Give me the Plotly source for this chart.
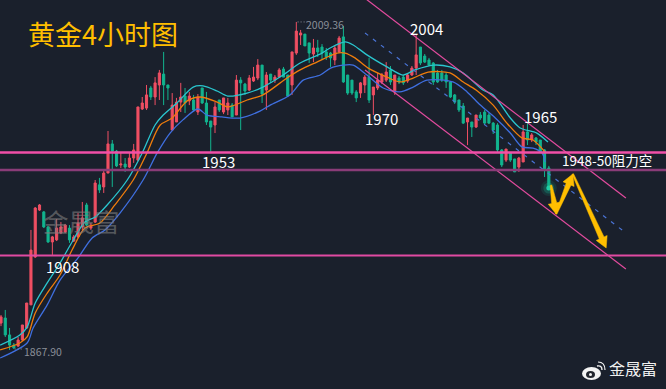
import math
import plotly.graph_objects as go

W, H = 666, 389
BG = "#1a202c"
RED = "#ef4f63"
GREEN = "#12b48f"
TEAL = "#2ac6cf"
ORANGE = "#f07d0c"
BLUE = "#3f6fe0"
PINK = "#ee4fa6"
GOLD = "#ffbe00"
FONT = "Noto Sans CJK SC"

opens = [1879.1,1881.3,1874,1869.6,1869.2,1871.8,1877,1887,1907.7,1928,1927.2,1920.7,1914.2,1915.1,1918.1,1918.5,1920.2,1914.6,1916.4,1920.7,
1930.2,1920.2,1922.8,1938.9,1938,1944,1956.6,1953.5,1947.5,1947.9,1946.6,1950.5,1949.6,1971.7,1972.1,1980.8,1976.9,1982.1,1986.8,1982.1,
1962.6,1966.1,1974.7,1977.3,1975.2,1975.6,1970.4,1980.8,1974.3,1966.5,1964.8,1975.6,1970.4,1971.3,1973.4,1969.1,1984.2,1982.5,1979.9,1983.8,
1985.1,1990.7,1979.9,1986.8,1984.2,1985.5,1989,1986.4,1982.1,1995.9,2003.7,2004.1,2000.3,1995.5,1998.1,1998.5,1996.4,1995.9,1992.9,1996.4,
2002.9,1986.4,1984.2,1979.1,1978.6,1982.1,1985.5,1977.8,1980.8,1983.4,1984.2,1988.6,1979.1,1985.1,1985.5,1983.8,1986.4,1989.4,1998.5,1994.6,
1992.9,1991.6,1987.3,1987.3,1986.4,1983.4,1977.8,1975.6,1973,1966.1,1966.1,1963.9,1969.1,1970.4,1969.1,1965.6,1964.8,1954,1949.6,1952.7,
1950.1,1946.6,1948.8,1961.8,1958.3,1959.2,1958.3,1954,1946.2]
highs = [1882.6,1884.8,1877,1870.5,1873.1,1878.3,1887.8,1919.4,1929.3,1930.6,1927.6,1921.1,1916.8,1924.1,1922.8,1922,1921.5,1917.2,1926.7,1931.5,
1931.1,1922.4,1941,1941.9,1945.3,1962.2,1958.3,1954,1952.7,1950.5,1953.1,1956.6,1972.6,1976.9,1982.1,1981.7,1985.5,1988.6,1996.4,1982.1,
1978.6,1976.5,1983,1980.8,1979.1,1977.8,1978.2,1980.8,1979.1,1966.5,1974.7,1975.6,1976.5,1976.5,1974.3,1986.4,1985.5,1983,1986.4,1989.9,
1993.3,1990.7,1987.7,1986.8,1986.4,1989.4,1989.9,1986.4,1996.4,2009.36,2005.9,2004.1,2000.3,2002,2001.6,1999.8,1998.1,1996.4,1999,2003.3,
2007.6,1986.4,1984.2,1979.9,1983.4,1986.4,1993.8,1981.2,1987.3,1987.3,1992,1990.3,1986.4,1986,1986.4,1987.3,1990.3,2003.7,1998.5,1995.5,
1993.8,1992,1988.6,1988.6,1987.7,1983.4,1978.2,1975.6,1974.3,1967.8,1966.1,1969.1,1970.4,1971.3,1970,1966.1,1965.6,1954.4,1954.4,1952.7,
1950.1,1951,1964.8,1965.6,1961.3,1959.6,1958.3,1954.4,1947.1]
lows = [1877.8,1873.1,1867.5,1867.9,1868.8,1871.4,1876.6,1887,1907.3,1927.6,1920.2,1913.8,1908.6,1914.6,1917.6,1918.1,1913.8,1914.2,1915.9,1919.4,
1921.1,1919.4,1922.4,1935.4,1935.4,1944,1938,1946.6,1946.2,1944.5,1946.2,1948.4,1949.2,1971.3,1971.3,1975.6,1973.4,1975.6,1973.4,1975.6,
1962.6,1966.1,1970.4,1970,1973.4,1970.4,1969.1,1973.9,1964.8,1953.1,1961.3,1970.4,1969.5,1969.1,1968.3,1969.1,1962.6,1977.8,1979.5,1983.4,
1984.2,1974.3,1971.3,1983,1983,1985.5,1985.5,1976.9,1977.8,1995.1,1999.4,1999,1991.6,1992,1994.2,1992.9,1992.9,1989.9,1990.7,1995.9,
1983,1977.8,1977.8,1974.7,1976.5,1978.6,1974.3,1969.1,1979.9,1982.5,1983.4,1982.1,1977.8,1982.5,1982.1,1983,1986,1986.4,1990.7,1991.6,
1990.3,1982.1,1983,1983.4,1980.8,1976.5,1973.9,1970.4,1965.2,1956.1,1959.6,1963.5,1967,1964.8,1965.2,1960.9,1953.1,1946.6,1948.8,1948.8,
1944.5,1944.5,1948.8,1956.1,1957.4,1956.1,1952.7,1942.3,1937.5]
closes = [1881.8,1874,1869.6,1868.4,1871.8,1878.3,1887.8,1910.7,1928.9,1930.2,1920.7,1914.2,1916.4,1920.2,1920.7,1921.5,1915.1,1916.4,1922.4,1924.6,
1921.5,1921.5,1939.7,1936.7,1944,1956.6,1953.5,1947.1,1947.9,1946.6,1950.5,1954,1972.6,1974.3,1977.8,1976.9,1983,1987.3,1982.1,1980.8,
1973.4,1974.7,1976.9,1974.3,1977.3,1971.3,1976.9,1974.3,1966.1,1963.9,1972.6,1971.3,1976.5,1974.3,1968.3,1984.2,1983,1979.5,1985.1,1985.5,
1990.7,1978.2,1986.4,1984.2,1985.5,1988.6,1985.5,1977.3,1996.4,2005.4,2004.6,1999,1995.9,1998.1,1996.4,1995.9,1994.2,1993.8,1998.1,2002.4,
1983.4,1978.6,1978.6,1976.5,1983,1985.5,1975.6,1981.2,1984.2,1986.4,1987.7,1983.4,1986.4,1983.4,1983,1986.4,1989.4,1995.1,1991.6,1992,
1990.7,1983.4,1983.4,1984.2,1983.4,1976.9,1974.7,1971.3,1965.6,1967.8,1963.9,1969.1,1967.8,1965.6,1965.6,1962.6,1954,1947.5,1954.4,1949.6,
1944.5,1950.5,1961.8,1958.3,1960.5,1957.4,1953.1,1945.3,1937.5]
bars = list(range(len(opens)))

blue_x = [-0.2,6.1,7.5,10.8,13.8,18,21.3,24.3,27.8,33.2,36.5,39.5,42.5,46,48.1,51.6,55.8,60.5,62.9,67.5,70.6,74.6,77,80,82.3,85.5,89.3,93.2,96.3,99.5,105.6,108.9,112,115.5,119,121.7,124.3,126.4,127.1]
blue_y = [1864,1870.5,1877,1887,1897.7,1907.3,1915.9,1919.4,1926.7,1941,1952.7,1961.3,1967,1971.7,1969.1,1968.3,1967.8,1970.8,1973.4,1977.8,1984.2,1986.4,1989.4,1990.7,1990.7,1986.4,1980.8,1979.1,1981.2,1984.2,1983.4,1979.1,1973.4,1967.8,1961.3,1955.3,1954.8,1952.7,1948.8]
orange_x = [-0.2,4.4,6.1,8,10.8,13.8,16.6,19.6,23.1,26.6,30.9,34.1,37.2,40,43.5,46.5,50.5,53,57.5,61.2,66.8,69.9,73.8,78.5,80.4,82.7,85.8,90.2,93.2,96.3,99.8,104.9,108,111,115,118.2,121.7,124.3,127.1]
orange_y = [1867.5,1870.5,1873.1,1883.5,1892.1,1899.9,1910.7,1920.2,1922.4,1930.2,1941,1952.7,1964.8,1967.8,1975.2,1976.9,1974.7,1972.6,1975.6,1977.8,1985.1,1988.6,1992,1995.9,1995.9,1993.8,1989.4,1985.5,1983.4,1985.1,1987.7,1987.3,1983.4,1979.9,1973.4,1965.6,1959.2,1958.3,1953.1]
teal_x = [-0.2,4.4,6.1,8,10.8,13.8,16.6,19.6,22,24.8,29.5,33,36,37.9,41.1,44.9,47.2,50.5,53,57.5,61.2,65.9,69.9,75,76.9,80.4,82.3,85.5,90.2,93.9,96.7,101,104.9,108,112.6,115,119,121.3,125.2,127.8]
teal_y = [1869.6,1874,1877.4,1887.8,1896.5,1905.1,1914.2,1922.8,1925,1930.2,1941,1952.7,1964.8,1969.1,1974.3,1981.2,1981.7,1979.5,1977.3,1978.6,1981.2,1986.4,1991.6,1995.9,1998.1,2000.7,1999.4,1995.1,1989.9,1986.4,1988.6,1990.7,1989.9,1987.3,1979.9,1977.8,1967.8,1963.5,1961.3,1957.4]

channel_x = [85.05, 146]
channel_upper = [2019.6, 1933.2]
channel_lower = [1988.6, 1902.5]
channel_mid = [2004.6, 1918.1]
levels = [1952.9, 1945.3, 1908.3]
level_colors = ["#f24fa8", "#8a3c78", "#e04aa2"]
level_widths = [2.4, 2.4, 2]

arrow_x = [128.5, 129.7, 133.6, 141.4]
arrow_y = [1938.8, 1926.3, 1943.6, 1911.6]

PX_PER_BAR = 4.28
PX_PER_USD = 1 / 0.4325
x0 = -1 / PX_PER_BAR
x1 = 665 / PX_PER_BAR
y_top = 2018.85
y_bot = 2018.85 - 389 * 0.4325

fig = go.Figure()
fig.add_trace(go.Candlestick(
    x=bars, open=opens, high=highs, low=lows, close=closes,
    increasing=dict(line=dict(color=RED, width=1), fillcolor=RED),
    decreasing=dict(line=dict(color=GREEN, width=1), fillcolor=GREEN),
    whiskerwidth=0, hoverinfo="skip", showlegend=False))

for xs, ys, col in [(teal_x, teal_y, TEAL), (orange_x, orange_y, ORANGE), (blue_x, blue_y, BLUE)]:
    fig.add_trace(go.Scatter(x=xs, y=ys, mode="lines", line=dict(color=col, width=1.3, shape="spline", smoothing=0.8), showlegend=False))

for ys in (channel_upper, channel_lower):
    fig.add_trace(go.Scatter(x=channel_x, y=ys, mode="lines", line=dict(color="#e24b9e", width=1.2), showlegend=False))
fig.add_trace(go.Scatter(x=channel_x, y=channel_mid, mode="lines", line=dict(color="#4a74d6", width=1.2, dash="4px,6px"), showlegend=False))

# min / max leaders
fig.add_trace(go.Scatter(x=[69.3, 71.5], y=[highs[69], highs[69]], mode="lines", line=dict(color="#8a8f98", width=1, dash="1px,2px"), showlegend=False))
fig.add_trace(go.Scatter(x=[3.2, 5.2], y=[lows[3], lows[3]], mode="lines", line=dict(color="#8a8f98", width=1, dash="1px,2px"), showlegend=False))

# glow on the last close
for sz, op in [(16, 0.14), (11, 0.28)]:
    fig.add_trace(go.Scatter(x=[bars[-1]], y=[closes[-1]], mode="markers", marker=dict(size=sz, color=GREEN, opacity=op, line=dict(width=0)), showlegend=False))
fig.add_trace(go.Scatter(x=[bars[-1]], y=[closes[-1]], mode="markers", marker=dict(size=5, color="#1ecfa6", line=dict(width=0)), showlegend=False))

# tapered hand-drawn arrows, built from the arrow waypoints
def arrow_polygon(xa, ya, xb, yb, tail=0.8, neck=2.6, head=6, head_len=11):
    dx = (xb - xa) * PX_PER_BAR
    dy = (yb - ya) * PX_PER_USD
    length = math.hypot(dx, dy)
    ux, uy = dx / length, dy / length
    nx, ny = -uy, ux
    base = length - head_len
    def pt(along, off):
        return (xa + (ux * along + nx * off) / PX_PER_BAR, ya + (uy * along + ny * off) / PX_PER_USD)
    pts = [pt(0, tail), pt(base, neck), pt(base, head), pt(length, 0), pt(base, -head), pt(base, -neck), pt(0, -tail), pt(0, tail)]
    return [p[0] for p in pts], [p[1] for p in pts]

for i in range(3):
    ax_, ay_ = arrow_polygon(arrow_x[i], arrow_y[i], arrow_x[i + 1], arrow_y[i + 1])
    fig.add_trace(go.Scatter(x=ax_, y=ay_, mode="lines", fill="toself", fillcolor=GOLD, line=dict(color=GOLD, width=0.5), showlegend=False))

shapes = []
for lv, col, wd in zip(levels, level_colors, level_widths):
    shapes.append(dict(type="line", xref="paper", yref="y", x0=0, x1=1, y0=lv, y1=lv, line=dict(color=col, width=wd), layer="above"))

def px(x): return x / W
def py(y): return 1 - y / H

# Weibo-style mark
shapes += [
    dict(type="circle", xref="paper", yref="paper", x0=px(582), x1=px(601), y0=py(380), y1=py(367), fillcolor="#f4f4f4", line=dict(width=0)),
    dict(type="circle", xref="paper", yref="paper", x0=px(586), x1=px(595), y0=py(378), y1=py(371), fillcolor="#23272f", line=dict(width=0)),
    dict(type="circle", xref="paper", yref="paper", x0=px(589), x1=px(592), y0=py(376), y1=py(373), fillcolor="#f4f4f4", line=dict(width=0)),
    dict(type="path", xref="paper", yref="paper", path=f"M {px(597)} {py(366)} Q {px(602)} {py(365)} {px(602)} {py(370)}", line=dict(color="#f4f4f4", width=1.4)),
    dict(type="path", xref="paper", yref="paper", path=f"M {px(598)} {py(362)} Q {px(605)} {py(362)} {px(605)} {py(370)}", line=dict(color="#f4f4f4", width=1.2)),
]

def label(text, x, y, size, color="#ffffff", anchor="center"):
    return dict(text=text, xref="paper", yref="paper", x=px(x), y=py(y), xanchor=anchor, yanchor="middle",
                showarrow=False, font=dict(family=FONT, size=size, color=color))

anns = [
    label("黄金4小时图", 26, 33, 27, GOLD, "left"),
    label("1953", 218, 161, 15),
    label("1908", 62, 266, 15),
    label("1970", 381, 118, 15),
    label("2004", 426, 28, 15),
    label("1965", 540, 117, 15),
    label("1948-50阻力空", 560, 160, 13.5, "#ffffff", "left"),
    label("2009.36", 304, 25, 10.5, "#8a8f98", "left"),
    label("1867.90", 22, 351, 10.5, "#8a8f98", "left"),
    label("金晟富", 41, 220, 25.5, "rgba(125,125,125,0.62)", "left"),
    label("金晟富", 607, 368, 16, "#f0f0f0", "left"),
]

fig.update_layout(
    width=W, height=H, margin=dict(l=0, r=0, t=0, b=0),
    paper_bgcolor=BG, plot_bgcolor=BG, showlegend=False, boxgap=0.3,
    xaxis=dict(range=[x0, x1], visible=False, rangeslider=dict(visible=False), fixedrange=True),
    yaxis=dict(range=[y_bot, y_top], visible=False, fixedrange=True),
    shapes=shapes, annotations=anns, font=dict(family=FONT),
)
fig.write_html("out.html", config=dict(displayModeBar=False),
               post_script="document.body.style.margin='0';document.body.style.background='#1a202c';document.documentElement.style.overflow='hidden';")
